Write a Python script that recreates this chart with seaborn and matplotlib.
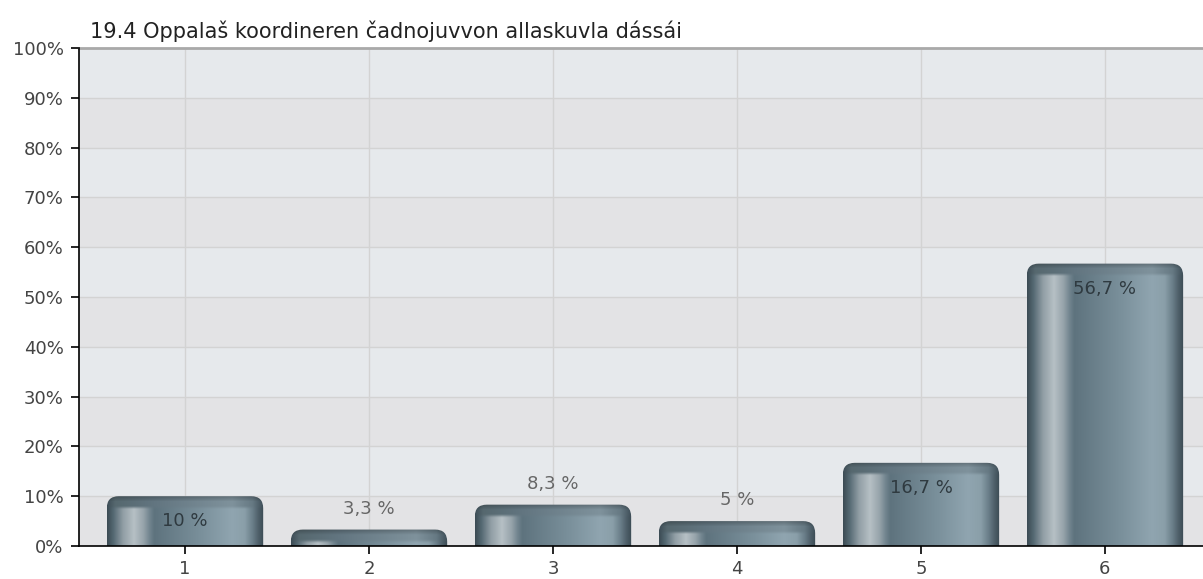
import matplotlib

matplotlib.use("Agg")
import matplotlib.pyplot as plt
import numpy as np
import pandas as pd
import seaborn as sns
from matplotlib.colors import to_rgb
from matplotlib.patches import FancyBboxPatch
from matplotlib.ticker import FuncFormatter, MultipleLocator

TITLE = "19.4 Oppalaš koordineren čadnojuvvon allaskuvla dássái"
categories = ["1", "2", "3", "4", "5", "6"]
percentages = [10.0, 3.3, 8.3, 5.0, 16.7, 56.7]

# horizontal shading of the cylinder-like bars (front face and top lip)
BODY_STOPS = [
    (0.00, "#3c4c55"), (0.04, "#566a74"), (0.10, "#919ea5"), (0.17, "#b6c0c5"),
    (0.23, "#97a4ab"), (0.27, "#72858f"), (0.30, "#5e737e"), (0.60, "#7a909b"),
    (0.80, "#90a5b0"), (0.88, "#8a9fa9"), (0.93, "#6a7e89"), (0.97, "#4d5e68"),
    (1.00, "#3c4b54"),
]
CAP_STOPS = [
    (0.00, "#3e4e57"), (0.05, "#56686f"), (0.30, "#627580"), (0.80, "#7f929c"),
    (0.93, "#667983"), (1.00, "#3e4e57"),
]


def ramp(stops, n):
    pos = np.array([p for p, _ in stops])
    cols = np.array([to_rgb(c) for _, c in stops])
    xs = np.linspace(0, 1, n)
    return np.stack([np.interp(xs, pos, cols[:, k]) for k in range(3)], axis=1)


def bar_image(w_px, h_px, cap_px=11):
    body = ramp(BODY_STOPS, w_px)
    cap = ramp(CAP_STOPS, w_px)
    rows = np.arange(h_px)
    wcap = np.clip((cap_px - rows) / 3 + 0.5, 0, 1)
    img = wcap[:, None, None] * cap[None] + (1 - wcap)[:, None, None] * body[None]
    top = np.clip(1 - rows / 5, 0, 1) * 0.22
    return np.clip(img * (1 - top[:, None, None]), 0, 1)


def main() -> None:
    sns.set_style("white")
    plt.rcParams["font.family"] = ["DejaVu Sans"]

    fig = plt.figure(figsize=(12.03, 5.79), dpi=100)
    ax = fig.add_axes([79 / 1203, 33 / 579, 1124 / 1203, 498 / 579])

    df = pd.DataFrame({"answer": categories, "share": percentages})
    sns.barplot(data=df, x="answer", y="share", width=0.85, color="#6f8590",
                errorbar=None, ax=ax, zorder=3)
    bars = list(ax.patches)
    ax.set_xlim(-0.576, 5.533)
    ax.set_ylim(0, 100)

    # alternating background bands
    for i in range(10):
        ax.axhspan(i * 10, i * 10 + 10, color="#e3e3e5" if i % 2 == 0 else "#e6e9ec",
                   lw=0, zorder=0)

    px_per_x = ax.transData.transform((1, 0))[0] - ax.transData.transform((0, 0))[0]
    px_per_y = ax.transData.transform((0, 1))[1] - ax.transData.transform((0, 0))[1]
    r_x = 12 / px_per_x
    asp = px_per_x / px_per_y
    r_y = r_x * asp

    for patch, value in zip(bars, percentages):
        x0, w, h = patch.get_x(), patch.get_width(), patch.get_height()
        patch.set_visible(False)
        w_px = max(int(round(w * px_per_x)), 2)
        h_px = max(int(round(h * px_per_y)), 2)
        im = ax.imshow(bar_image(w_px, h_px), extent=(x0, x0 + w, 0, h),
                       aspect="auto", interpolation="bilinear", zorder=3)
        clip = FancyBboxPatch((x0, -r_y), w, h + r_y,
                              boxstyle=f"round,pad=0,rounding_size={r_x}",
                              mutation_aspect=asp, transform=ax.transData,
                              facecolor="none", edgecolor="none")
        im.set_clip_path(clip)

        label = f"{value:g} %".replace(".", ",")
        if value >= 10:
            ax.annotate(label, (x0 + w / 2, h), xytext=(0, -25), textcoords="offset pixels",
                        ha="center", va="center", fontsize=13, color="#2f3a40", zorder=5)
        else:
            ax.annotate(label, (x0 + w / 2, h), xytext=(0, 21), textcoords="offset pixels",
                        ha="center", va="center", fontsize=13, color="#666666", zorder=5)

    ax.set_xlim(-0.576, 5.533)
    ax.set_ylim(0, 100)
    ax.yaxis.set_major_locator(MultipleLocator(10))
    ax.yaxis.set_major_formatter(FuncFormatter(lambda v, _: f"{v:.0f}%"))
    ax.set_axisbelow(True)
    ax.grid(True, color="#d3d3d3", lw=1, zorder=0.5)
    ax.set_xlabel("")
    ax.set_ylabel("")

    ax.spines["right"].set_visible(False)
    ax.spines["top"].set_color("#a9a9a9")
    ax.spines["top"].set_linewidth(2)
    for side in ("left", "bottom"):
        ax.spines[side].set_color("black")
        ax.spines[side].set_linewidth(1.2)
        ax.spines[side].set_zorder(6)
    ax.tick_params(axis="both", direction="out", length=6, width=1.2, color="black",
                   labelsize=13, labelcolor="#444444", left=True, bottom=True)
    ax.tick_params(axis="y", pad=5)
    ax.tick_params(axis="x", pad=4)

    fig.text(90 / 1203, 1 - 31 / 579, TITLE, ha="left", va="center",
             fontsize=15, color="#222222")

    fig.savefig("out.png", dpi=100)
    plt.close(fig)


if __name__ == "__main__":
    main()
